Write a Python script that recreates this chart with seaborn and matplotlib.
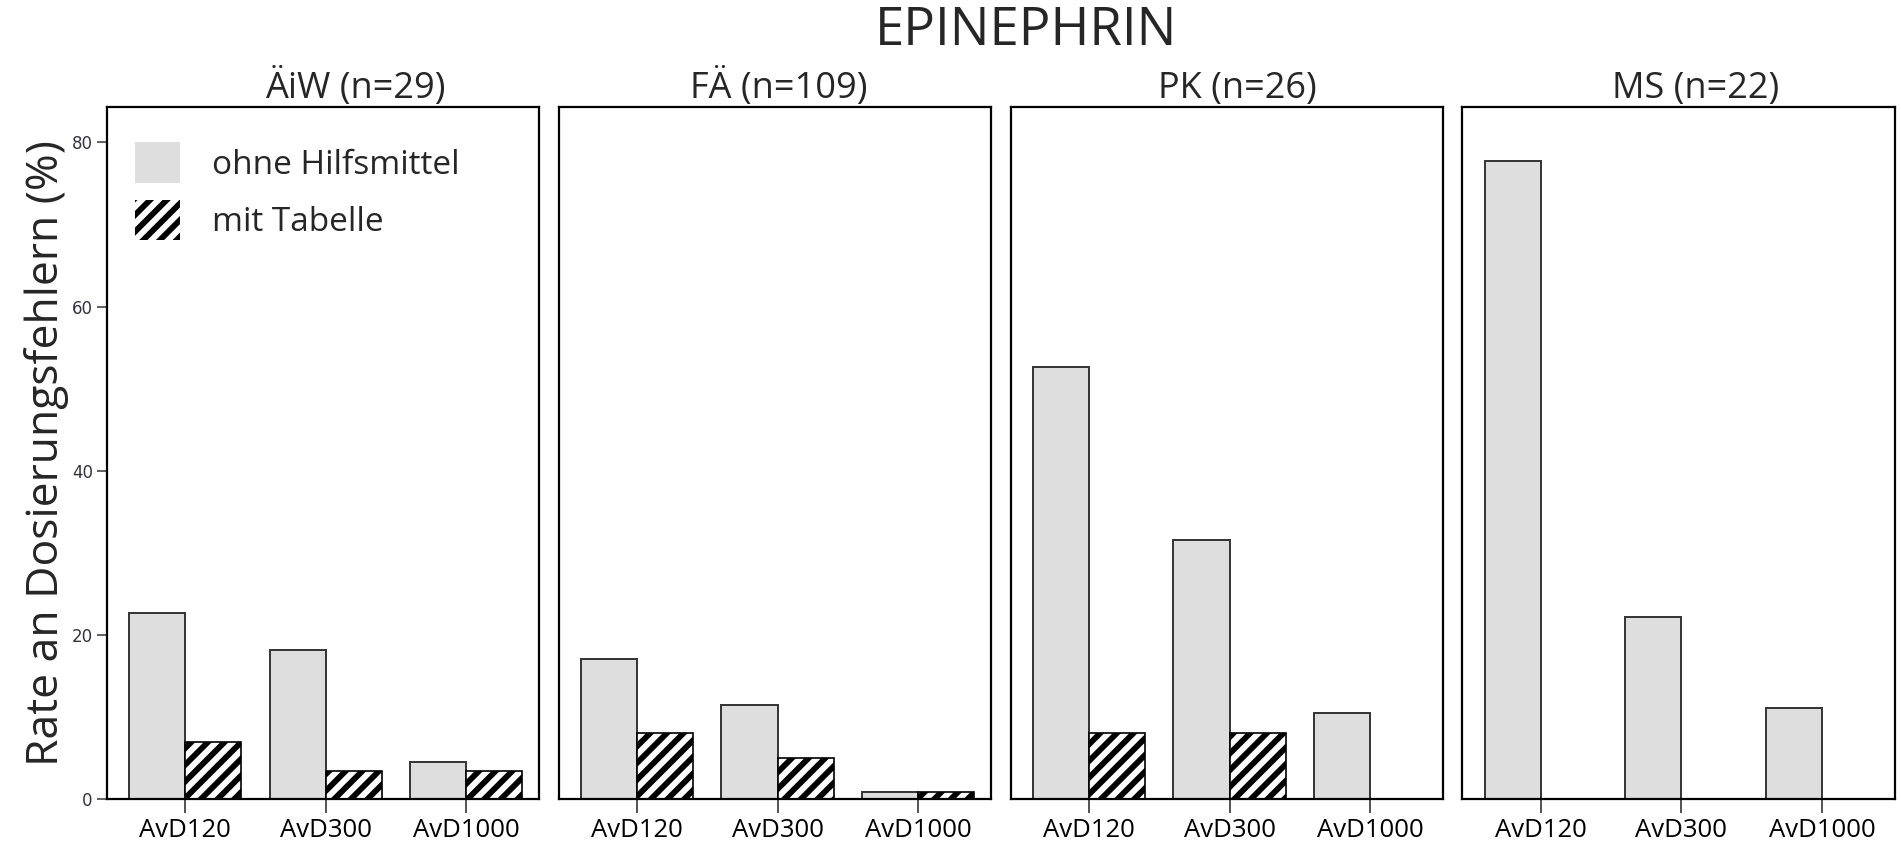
import pandas as pd
import matplotlib
matplotlib.use("Agg")
import matplotlib.pyplot as plt
import seaborn as sns
from matplotlib.patches import Patch

# data
groups = ["ÄiW (n=29)", "FÄ (n=109)", "PK (n=26)", "MS (n=22)"]
doses = ["AvD120", "AvD300", "AvD1000"]
conditions = ["ohne Hilfsmittel", "mit Tabelle"]

ohne_aiw = [22.7, 18.2, 4.5]
ohne_fa = [17.1, 11.4, 0.9]
ohne_pk = [52.6, 31.6, 10.5]
ohne_ms = [77.8, 22.2, 11.1]

mit_aiw = [6.9, 3.4, 3.4]
mit_fa = [8.1, 5.0, 0.9]
mit_pk = [8.0, 8.0, 0.0]
mit_ms = [0.0, 0.0, 0.0]

ohne_vals = [ohne_aiw, ohne_fa, ohne_pk, ohne_ms]
mit_vals = [mit_aiw, mit_fa, mit_pk, mit_ms]

rows = []
for g, o_list, m_list in zip(groups, ohne_vals, mit_vals):
    for d, o, m in zip(doses, o_list, m_list):
        rows.append({"group": g, "dose": d, "cond": conditions[0], "rate": o})
        rows.append({"group": g, "dose": d, "cond": conditions[1], "rate": m})
df = pd.DataFrame(rows)

sns.set_style("ticks")
plt.rcParams["font.family"] = ["Open Sans", "DejaVu Sans"]
plt.rcParams["hatch.linewidth"] = 4.2

GREY = "#dedede"
# panel titles sit a little right of centre in the original
title_x = [0.575, 0.51, 0.525, 0.54]

fig, axes = plt.subplots(1, 4, figsize=(19.01, 8.44), dpi=100, sharey=True)
fig.subplots_adjust(left=0.0561, right=0.9968, bottom=0.0533, top=0.873, wspace=0.045)

for ax, g, tx in zip(axes, groups, title_x):
    sub = df[df["group"] == g]
    sns.barplot(data=sub, x="dose", y="rate", hue="cond", order=doses,
                hue_order=conditions, palette=[GREY, "white"],
                edgecolor="#333333", linewidth=1.4, width=0.8,
                legend=False, ax=ax)
    for bar in ax.containers[1]:
        bar.set_hatch("//")
        bar.set_edgecolor("black")
        bar.set_linewidth(1.2)
    ax.set_xlim(-0.56, 2.52)
    ax.set_ylim(0, 84.3)
    ax.set_title(g, fontsize=26, pad=6, x=tx)
    ax.set_xlabel("")
    ax.set_ylabel("")
    for side in ["top", "right", "left", "bottom"]:
        ax.spines[side].set_visible(True)
        ax.spines[side].set_color("black")
        ax.spines[side].set_linewidth(1.6)
    ax.tick_params(axis="x", length=10, width=1.3, color="#444444",
                   labelsize=18.5, labelcolor="black", pad=4)
    ax.tick_params(axis="y", left=False)

ax0 = axes[0]
ax0.set_yticks([0, 20, 40, 60, 80])
ax0.tick_params(axis="y", left=True, length=7, width=1.2, color="#444444",
                labelsize=12, labelcolor="#333344", pad=3)
for lab in ax0.get_yticklabels():
    lab.set_family("DejaVu Sans")
ax0.set_ylabel("Rate an Dosierungsfehlern (%)", fontsize=32, labelpad=2)

handles = [Patch(facecolor=GREY, edgecolor="none"),
           Patch(facecolor="white", edgecolor="black", hatch="//", linewidth=0)]
ax0.legend(handles, conditions, loc="upper left", frameon=False,
           fontsize=24, handlelength=1.35, handleheight=1.5,
           handletextpad=0.95, labelspacing=0.5,
           bbox_to_anchor=(0.0, 0.99), borderaxespad=0.45)

fig.suptitle("EPINEPHRIN", fontsize=38, x=0.54, y=0.995)

fig.savefig("out.png", dpi=100)
